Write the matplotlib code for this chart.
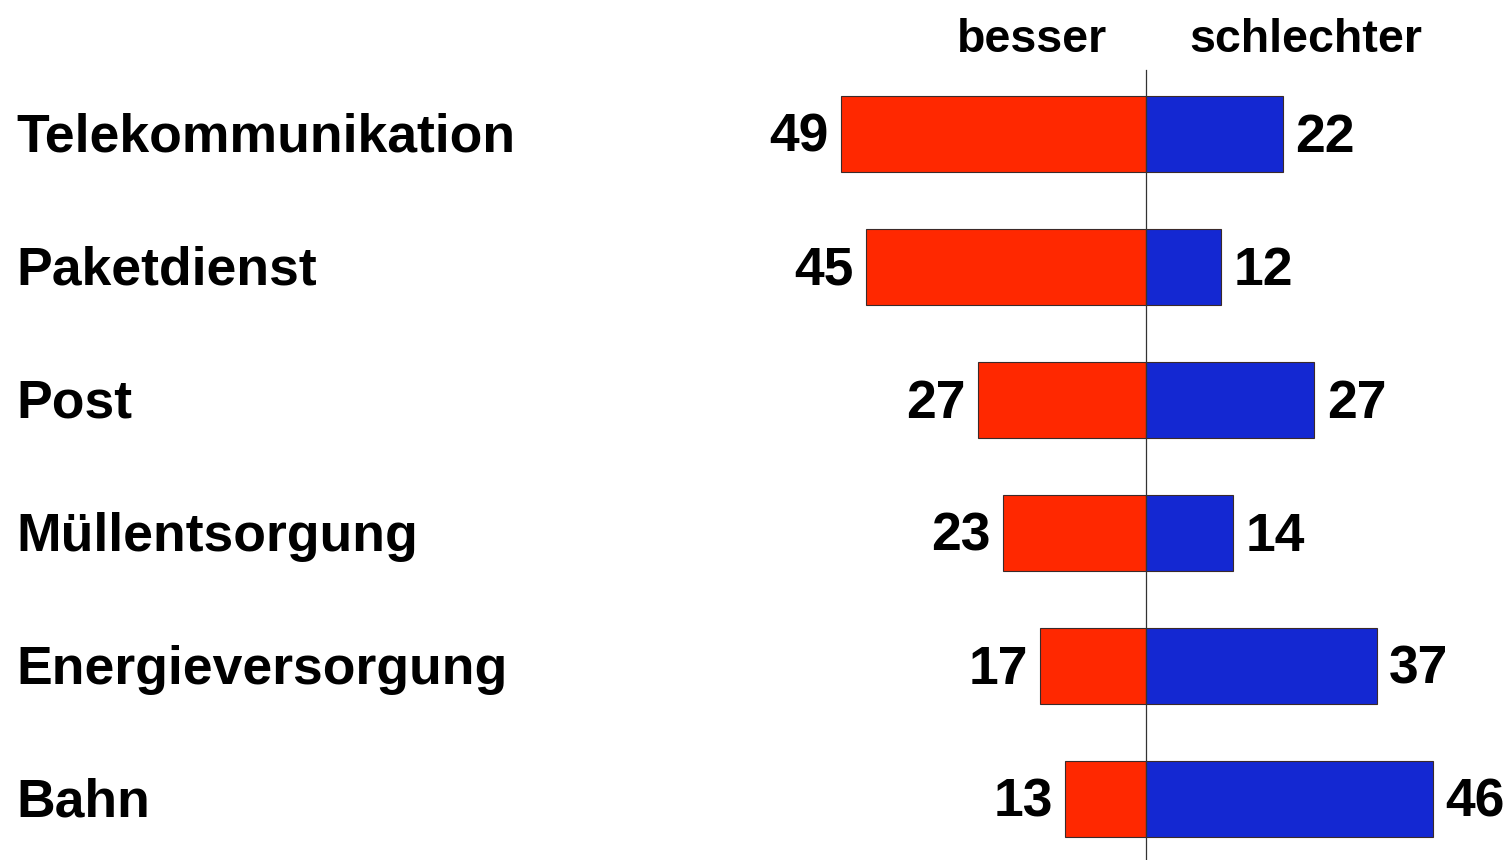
import matplotlib.pyplot as plt
import matplotlib.transforms as mtransforms

###############################################################################
#  DATA
###############################################################################
categories = ["Telekommunikation", "Paketdienst", "Post",
              "Müllentsorgung", "Energieversorgung", "Bahn"]
besser = [49, 45, 27, 23, 17, 13]
schlechter = [22, 12, 27, 14, 37, 46]
header_left = "besser"
header_right = "schlechter"

###############################################################################
#  STYLE
###############################################################################
plt.rcParams['font.family'] = ['Liberation Sans', 'DejaVu Sans']
RED = "#ff2800"
BLUE = "#1428d2"
EDGE = "#3a2a2a"
FONT_SIZE = 38.5
HEADER_SIZE = 33.5
BAR_HEIGHT = 0.564
PX_PER_UNIT = 6.23
CENTER_PX = 1146
W, H = 1508, 860

fig = plt.figure(figsize=(W / 100, H / 100), dpi=100)
ax = fig.add_axes([0, 0, 1, 1])
ax.set_xlim(-CENTER_PX / PX_PER_UNIT, (W - CENTER_PX) / PX_PER_UNIT)
ax.set_ylim((H - 134) / 133, -134 / 133)
ax.axis('off')

rows = list(range(len(categories)))
ax.barh(rows, [-v for v in besser], height=BAR_HEIGHT, color=RED,
        edgecolor=EDGE, linewidth=0.8)
ax.barh(rows, schlechter, height=BAR_HEIGHT, color=BLUE,
        edgecolor=EDGE, linewidth=0.8)
ax.axvline(0, ymin=0, ymax=1 - 70 / H, color="#333333", linewidth=0.9)

label_trans = mtransforms.blended_transform_factory(ax.transAxes, ax.transData)
for i, name in enumerate(categories):
    ax.text(16 / W, i + 0.135, name, transform=label_trans, fontsize=FONT_SIZE,
            fontweight='bold', ha='left', va='baseline')
    ax.text(-besser[i] - 2.0, i + 0.135, str(besser[i]), fontsize=FONT_SIZE,
            fontweight='bold', ha='right', va='baseline')
    ax.text(schlechter[i] + 2.0, i + 0.135, str(schlechter[i]), fontsize=FONT_SIZE,
            fontweight='bold', ha='left', va='baseline')

ax.text(-18.3, -0.617, header_left, fontsize=HEADER_SIZE, fontweight='bold',
        ha='center', va='baseline')
ax.text(25.7, -0.617, header_right, fontsize=HEADER_SIZE, fontweight='bold',
        ha='center', va='baseline')

fig.savefig("out.png", dpi=100)
